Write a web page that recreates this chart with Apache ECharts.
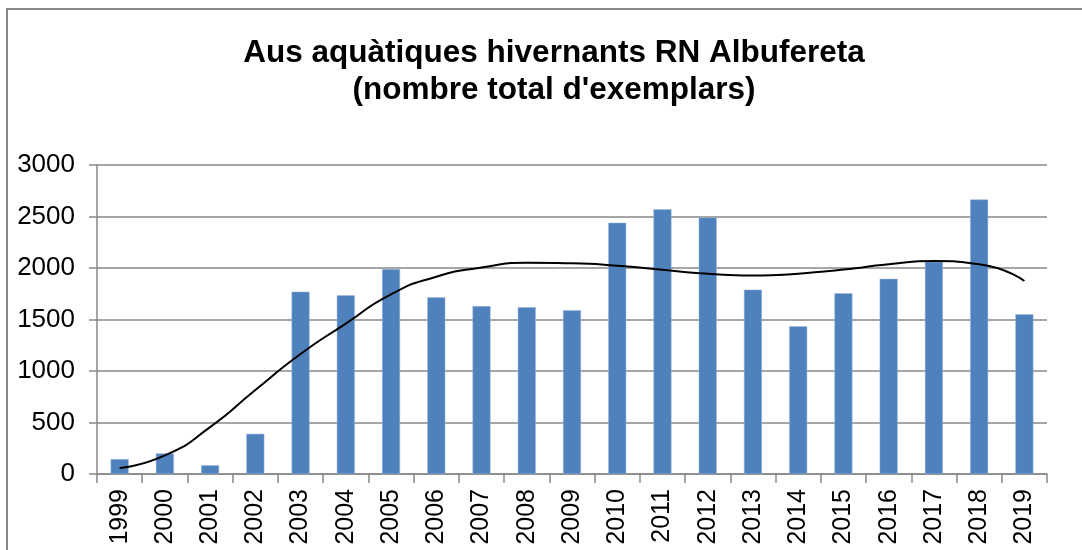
<!DOCTYPE html>
<html>
<head>
<meta charset="utf-8">
<script src="https://cdn.jsdelivr.net/npm/echarts@6/dist/echarts.min.js"></script>
<style>
  html, body { margin: 0; padding: 0; background: #fff; }
  #chart { width: 1082px; height: 550px; }
</style>
</head>
<body>
<div id="chart"></div>
<script>
// dades
const years = ['1999', '2000', '2001', '2002', '2003', '2004', '2005', '2006', '2007', '2008', '2009',
  '2010', '2011', '2012', '2013', '2014', '2015', '2016', '2017', '2018', '2019']
const totals = [145, 200, 85, 390, 1770, 1735, 1990, 1715, 1630, 1620, 1590,
  2440, 2570, 2490, 1790, 1435, 1755, 1895, 2060, 2665, 1550]
// tendencia (llegida de la imatge)
const trend = [58, 180, 455, 815, 1165, 1460, 1745, 1915, 2005, 2050, 2045,
  2022, 1982, 1945, 1928, 1945, 1985, 2036, 2068, 2036, 1874]
const yTicks = [0, 500, 1000, 1500, 2000, 2500, 3000]

const chart = echarts.init(document.getElementById('chart'))
const option = {
  backgroundColor: '#fff',
  animation: false,
  title: {
    text: "Aus aquàtiques hivernants RN Albufereta\n(nombre total d'exemplars)",
    left: 549,
    top: 30,
    textAlign: 'center',
    textStyle: {
      fontFamily: 'Liberation Sans',
      fontSize: 31.5,
      fontWeight: 'bold',
      color: '#000',
      lineHeight: 37
    }
  },
  graphic: [
    { type: 'line', shape: { x1: 6, y1: 9, x2: 1082, y2: 9 }, style: { stroke: '#888', lineWidth: 2 } },
    { type: 'line', shape: { x1: 7, y1: 9, x2: 7, y2: 550 }, style: { stroke: '#888', lineWidth: 2 } }
  ],
  grid: { left: 97, right: 35, top: 165, bottom: 76 },
  xAxis: {
    type: 'category',
    data: years,
    boundaryGap: true,
    axisLine: { lineStyle: { color: '#888', width: 1.5 } },
    axisTick: { show: true, length: 9, alignWithLabel: false, lineStyle: { color: '#888', width: 1.5 } },
    axisLabel: {
      rotate: 90,
      interval: 0,
      margin: 15,
      color: '#000',
      fontFamily: 'Liberation Sans',
      fontSize: 25
    }
  },
  yAxis: {
    type: 'value',
    min: yTicks[0],
    max: yTicks[yTicks.length - 1],
    interval: 500,
    axisLine: { show: true, lineStyle: { color: '#888', width: 1.5 } },
    axisTick: { show: true, length: 8, lineStyle: { color: '#888', width: 1.5 } },
    splitLine: { lineStyle: { color: '#888', width: 1.5 } },
    axisLabel: {
      margin: 22,
      color: '#000',
      fontFamily: 'Liberation Sans',
      fontSize: 26,
      formatter: v => String(v)
    }
  },
  series: [
    {
      name: 'Total',
      type: 'bar',
      data: totals,
      barWidth: 18,
      itemStyle: { color: '#4f81bd', borderColor: '#9cb9dd', borderWidth: 0.5 }
    },
    {
      name: 'Tendència',
      type: 'line',
      data: trend,
      smooth: 0.6,
      symbol: 'none',
      lineStyle: { color: '#000', width: 2 },
      z: 5
    }
  ]
}
chart.setOption(option)
</script>
</body>
</html>
